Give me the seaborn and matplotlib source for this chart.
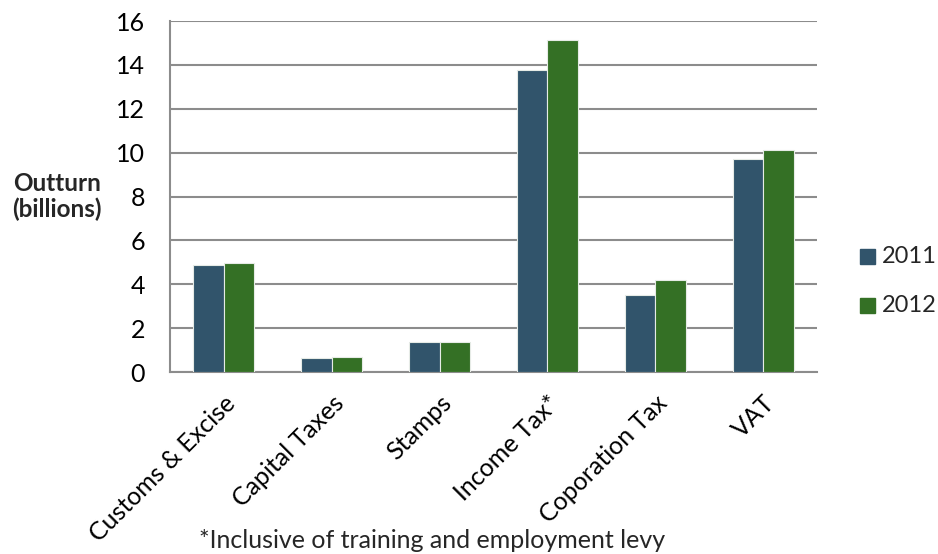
import matplotlib
matplotlib.use("Agg")
import matplotlib.pyplot as plt
import seaborn as sns
import pandas as pd

categories = ["Customs & Excise", "Capital Taxes", "Stamps", "Income Tax*",
              "Coporation Tax", "VAT"]
outturn_2011 = [4.9, 0.62, 1.35, 13.76, 3.49, 9.7]
outturn_2012 = [4.95, 0.67, 1.39, 15.14, 4.18, 10.14]
years = ["2011", "2012"]
y_ticks = [0, 2, 4, 6, 8, 10, 12, 14, 16]
colors = {"2011": "#31546b", "2012": "#347025"}

df = pd.DataFrame({
    "category": categories * 2,
    "year": [years[0]] * len(categories) + [years[1]] * len(categories),
    "value": outturn_2011 + outturn_2012,
})

sns.set_theme(style="white")
plt.rcParams["font.family"] = ["Lato", "DejaVu Sans"]

fig = plt.figure(figsize=(9.38, 5.54), dpi=100)
ax = fig.add_axes([0.1812, 0.3285, 0.6898, 0.6335])

sns.barplot(data=df, x="category", y="value", hue="year", palette=colors,
            order=categories, hue_order=years, width=0.566, gap=0,
            edgecolor="#e6ebe6", linewidth=0.8, saturation=1, ax=ax,
            legend=False, zorder=3)

ax.set_ylim(0, 16)
ax.set_yticks(y_ticks)
ax.set_xlim(-0.5, len(categories) - 0.5)
ax.yaxis.grid(True, color="#8c8c8c", linewidth=1.5, zorder=0)
ax.set_axisbelow(True)
for side in ("top", "right"):
    ax.spines[side].set_visible(False)
for side in ("left", "bottom"):
    ax.spines[side].set_color("#8c8c8c")
    ax.spines[side].set_linewidth(1.5)
ax.tick_params(axis="both", length=0, labelsize=18, colors="black")
ax.tick_params(axis="y", pad=18)
ax.tick_params(axis="x", pad=14)
ax.set_xlabel("")
ax.set_ylabel("")
for lbl in ax.get_xticklabels():
    lbl.set_rotation(45)
    lbl.set_ha("right")
    lbl.set_rotation_mode("anchor")

fig.text(0.061, 0.645, "Outturn\n(billions)", ha="center", va="center",
         fontsize=17.5, fontweight="bold", linespacing=1.15)

# legend drawn as colored squares beside the plot area
for i, yr in enumerate(years):
    yy = 1 - (257 + i * 48.5) / 554
    fig.patches.append(plt.Rectangle((860 / 938, yy - 7.5 / 554), 15 / 938, 15 / 554,
                                     transform=fig.transFigure, color=colors[yr]))
    fig.text(882 / 938, yy, yr, ha="left", va="center", fontsize=17)

fig.text(432 / 938, 1 - 540 / 554, "*Inclusive of training and employment levy",
         ha="center", va="center", fontsize=18)

fig.savefig("out.png", dpi=100)
